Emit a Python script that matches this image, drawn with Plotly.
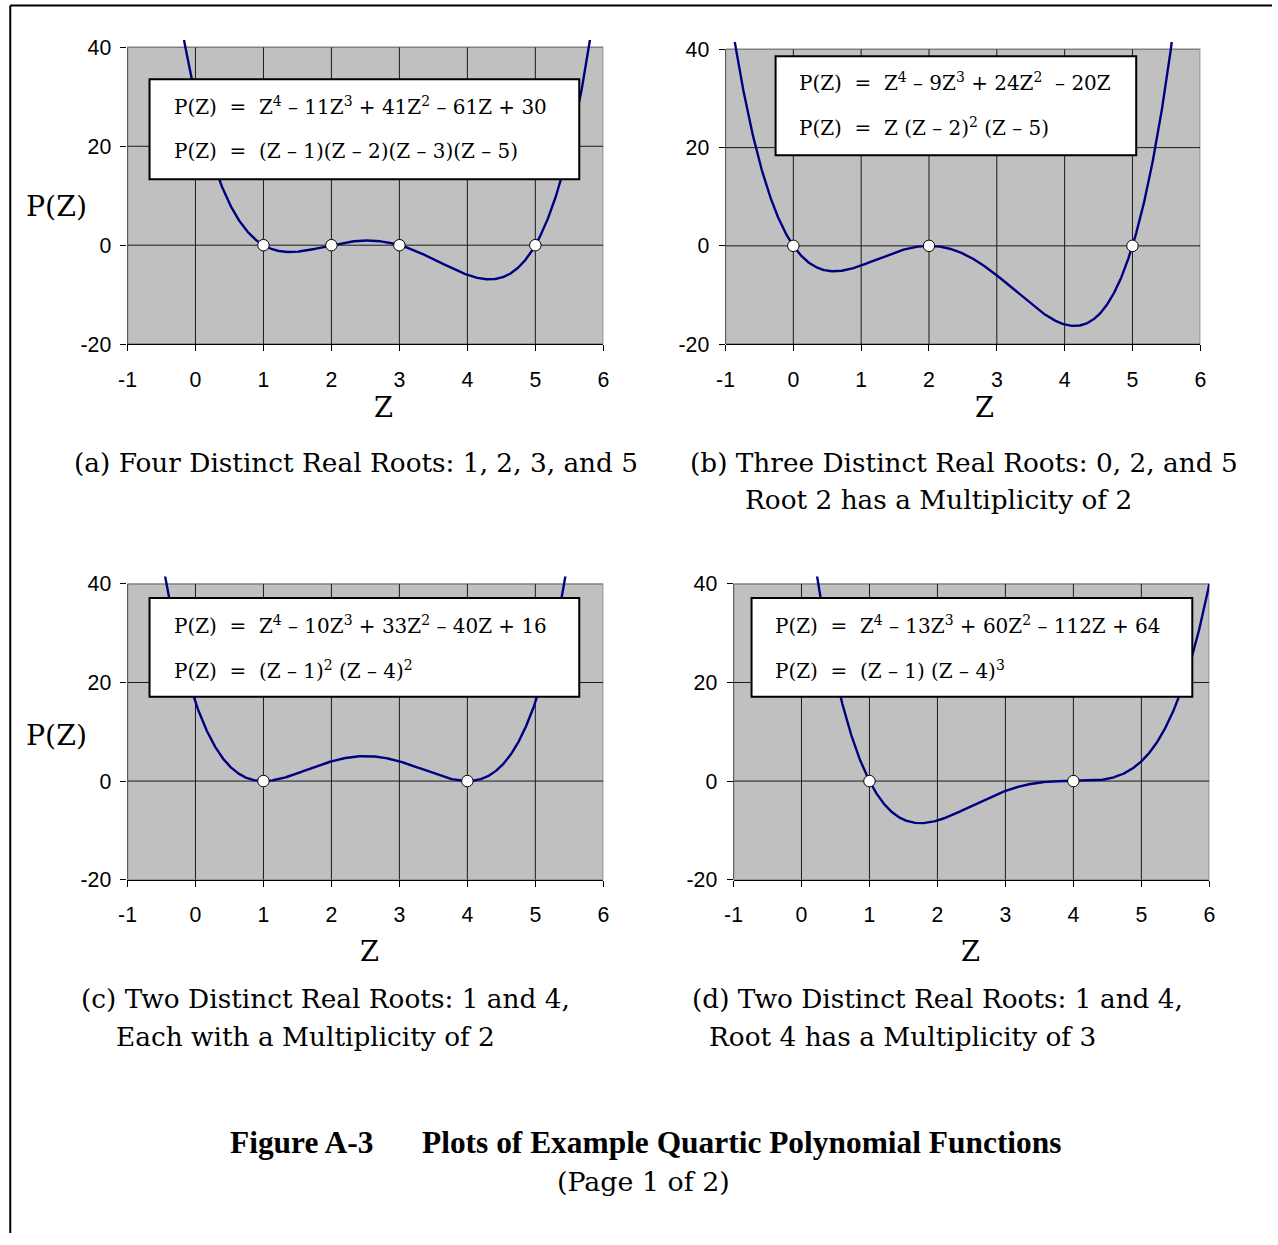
import numpy as np
import plotly.graph_objects as go

# ---------------- data ----------------
coef_a = [1, -11, 41, -61, 30]
coef_b = [1, -9, 24, -20, 0]
coef_c = [1, -10, 33, -40, 16]
coef_d = [1, -13, 60, -112, 64]
roots_a = [1, 2, 3, 5]
roots_b = [0, 2, 5]
roots_c = [1, 4]
roots_d = [1, 4]
x_ticks = [-1, 0, 1, 2, 3, 4, 5, 6]
x_tick_text = ["-1", "0", "1", "2", "3", "4", "5", "6"]
y_ticks = [-20, 0, 20, 40]
y_tick_text = ["-20", "0", "20", "40"]

eq_a = ["P(Z)  =  Z<sup>4</sup> – 11Z<sup>3</sup> + 41Z<sup>2</sup> – 61Z + 30",
        "P(Z)  =  (Z – 1)(Z – 2)(Z – 3)(Z – 5)"]
eq_b = ["P(Z)  =  Z<sup>4</sup> – 9Z<sup>3</sup> + 24Z<sup>2</sup>  – 20Z",
        "P(Z)  =  Z (Z – 2)<sup>2</sup> (Z – 5)"]
eq_c = ["P(Z)  =  Z<sup>4</sup> – 10Z<sup>3</sup> + 33Z<sup>2</sup> – 40Z + 16",
        "P(Z)  =  (Z – 1)<sup>2</sup> (Z – 4)<sup>2</sup>"]
eq_d = ["P(Z)  =  Z<sup>4</sup> – 13Z<sup>3</sup> + 60Z<sup>2</sup> – 112Z + 64",
        "P(Z)  =  (Z – 1) (Z – 4)<sup>3</sup>"]

cap_a = ["(a) Four Distinct Real Roots: 1, 2, 3, and 5"]
cap_b = ["(b) Three Distinct Real Roots: 0, 2, and 5", "Root 2 has a Multiplicity of 2"]
cap_c = ["(c) Two Distinct Real Roots: 1 and 4,", "Each with a Multiplicity of 2"]
cap_d = ["(d) Two Distinct Real Roots: 1 and 4,", "Root 4 has a Multiplicity of 3"]

title_1 = "Figure A-3"
title_2 = "Plots of Example Quartic Polynomial Functions"
title_3 = "(Page 1 of 2)"

# ---------------- layout helpers ----------------
W, H = 1278, 1245
SX, CX = 0.9866, 9.7         # observed capture mapping (page -> picture)
SY, CY = 0.988, 4.6
def px(x): return min(1.0, max(0.0, ((x - CX) / SX) / W))
def py(y): return min(1.0, max(0.0, 1 - ((y - CY) / SY) / H))
def fs(s): return s / SX

SERIF = "DejaVu Serif"
TSERIF = "Liberation Serif"
SANS = "Liberation Sans"
YMAX = 41.5

panels = [
    dict(coef=coef_a, roots=roots_a, eq=eq_a, cap=cap_a,
         xpx=(128, 603), ypx=(48, 345),
         box=(150, 80, 579, 180), eqx=172, eqy=(107, 152),
         ylab=(57, 207), xlab=(384, 408),
         capx=[73], capy=[464]),
    dict(coef=coef_b, roots=roots_b, eq=eq_b, cap=cap_b,
         xpx=(725, 1199), ypx=(50, 345),
         box=(775, 57, 1135, 156), eqx=796, eqy=(83, 128),
         ylab=None, xlab=(984, 408),
         capx=[688, 742], capy=[464, 501]),
    dict(coef=coef_c, roots=roots_c, eq=eq_c, cap=cap_c,
         xpx=(128, 603), ypx=(585, 881),
         box=(150, 599, 579, 698), eqx=172, eqy=(626, 671),
         ylab=(57, 737), xlab=(370, 953),
         capx=[80, 115], capy=[1000, 1038]),
    dict(coef=coef_d, roots=roots_d, eq=eq_d, cap=cap_d,
         xpx=(733, 1208), ypx=(585, 881),
         box=(751, 599, 1191, 698), eqx=772, eqy=(626, 671),
         ylab=None, xlab=(970, 953),
         capx=[690, 707], capy=[1000, 1038]),
]

fig = go.Figure()
shapes = []
annotations = []
layout = {}

for i, p in enumerate(panels, start=1):
    xs = "" if i == 1 else str(i)
    xref, yref = "x" + xs, "y" + xs
    x0p, x1p = p["xpx"]
    ytop, ybot = p["ypx"]
    ppu = (ybot - ytop) / 60.0
    ytop_ext = ytop - (YMAX - 40) * ppu

    layout["xaxis" + xs] = dict(
        domain=[px(x0p), px(x1p)], range=[-1, 6], anchor=yref,
        tickvals=x_ticks, ticktext=x_tick_text, ticks="outside", ticklen=6, tickcolor="black",
        showgrid=False, zeroline=False, showline=True, linecolor="black", linewidth=1,
        tickfont=dict(family=SANS, size=fs(21), color="black"), ticklabelstandoff=10,
        fixedrange=True)
    layout["yaxis" + xs] = dict(
        domain=[py(ybot), py(ytop_ext)], range=[-20, YMAX], anchor=xref,
        tickvals=y_ticks, ticktext=y_tick_text, ticks="outside", ticklen=6, tickcolor="black",
        showgrid=False, zeroline=False, showline=False,
        tickfont=dict(family=SANS, size=fs(21), color="black"), ticklabelstandoff=5,
        fixedrange=True)

    # plot area background and grid
    shapes.append(dict(type="rect", xref=xref, yref=yref, x0=-1, x1=6, y0=-20, y1=40,
                       fillcolor="#C0C0C0", line=dict(color="#808080", width=1.5), layer="below"))
    for gx in x_ticks[1:-1]:
        shapes.append(dict(type="line", xref=xref, yref=yref, x0=gx, x1=gx, y0=-20, y1=40,
                           line=dict(color="#1a1a1a", width=1), layer="below"))
    for gy in y_ticks[1:-1]:
        shapes.append(dict(type="line", xref=xref, yref=yref, x0=-1, x1=6, y0=gy, y1=gy,
                           line=dict(color="#1a1a1a", width=1), layer="below"))
    shapes.append(dict(type="line", xref=xref, yref=yref, x0=-1, x1=-1, y0=-20, y1=40,
                       line=dict(color="black", width=1), layer="below"))

    # curve
    zz = np.linspace(-1, 6, 1401)
    pz = np.polyval(p["coef"], zz)
    fig.add_trace(go.Scatter(x=zz, y=pz, mode="lines", xaxis=xref, yaxis=yref,
                             line=dict(color="#000080", width=2.4), hoverinfo="skip"))
    # roots
    fig.add_trace(go.Scatter(x=p["roots"], y=[0] * len(p["roots"]), mode="markers",
                             xaxis=xref, yaxis=yref,
                             marker=dict(color="white", size=11.5,
                                         line=dict(color="black", width=1))))

    # equation box
    bx0, by0, bx1, by1 = p["box"]
    shapes.append(dict(type="rect", xref="paper", yref="paper",
                       x0=px(bx0), x1=px(bx1), y0=py(by1), y1=py(by0),
                       fillcolor="white", line=dict(color="black", width=2), layer="above"))
    for line_txt, ly in zip(p["eq"], p["eqy"]):
        annotations.append(dict(text=line_txt, xref="paper", yref="paper",
                                x=px(p["eqx"]), y=py(ly), xanchor="left", yanchor="middle",
                                showarrow=False,
                                font=dict(family=SERIF, size=fs(19.7), color="black")))

    # axis titles
    if p["ylab"]:
        annotations.append(dict(text="P(Z)", xref="paper", yref="paper",
                                x=px(p["ylab"][0]), y=py(p["ylab"][1]),
                                xanchor="center", yanchor="middle", showarrow=False,
                                font=dict(family=SERIF, size=fs(28), color="black")))
    annotations.append(dict(text="Z", xref="paper", yref="paper",
                            x=px(p["xlab"][0]), y=py(p["xlab"][1]),
                            xanchor="center", yanchor="middle", showarrow=False,
                            font=dict(family=SERIF, size=fs(27), color="black")))
    # captions
    for txt, cx, cy in zip(p["cap"], p["capx"], p["capy"]):
        annotations.append(dict(text=txt, xref="paper", yref="paper",
                                x=px(cx), y=py(cy), xanchor="left", yanchor="middle",
                                showarrow=False,
                                font=dict(family=SERIF, size=fs(26), color="black")))

# figure title
annotations.append(dict(text="<b>" + title_1 + "</b>", xref="paper", yref="paper",
                        x=px(228), y=py(1144), xanchor="left", yanchor="middle", showarrow=False,
                        font=dict(family=TSERIF, size=fs(31), color="black")))
annotations.append(dict(text="<b>" + title_2 + "</b>", xref="paper", yref="paper",
                        x=px(420), y=py(1144), xanchor="left", yanchor="middle", showarrow=False,
                        font=dict(family=TSERIF, size=fs(31), color="black")))
annotations.append(dict(text=title_3, xref="paper", yref="paper",
                        x=px(643), y=py(1183), xanchor="center", yanchor="middle", showarrow=False,
                        font=dict(family=SERIF, size=fs(26.5), color="black")))

# page frame (left and top edges)
shapes.append(dict(type="line", xref="paper", yref="paper", x0=0.001, x1=0.001, y0=0, y1=py(6),
                   line=dict(color="black", width=2)))
shapes.append(dict(type="line", xref="paper", yref="paper", x0=0.001, x1=1, y0=py(6), y1=py(6),
                   line=dict(color="black", width=2)))

fig.update_layout(width=W, height=H, autosize=False,
                  margin=dict(l=0, r=0, t=0, b=0),
                  paper_bgcolor="white", plot_bgcolor="rgba(0,0,0,0)",
                  showlegend=False, shapes=shapes, annotations=annotations, **layout)

fig.write_html("out.html",
               config={"displayModeBar": False, "staticPlot": True},
               post_script="document.body.style.margin='0';document.body.style.overflow='hidden';")
